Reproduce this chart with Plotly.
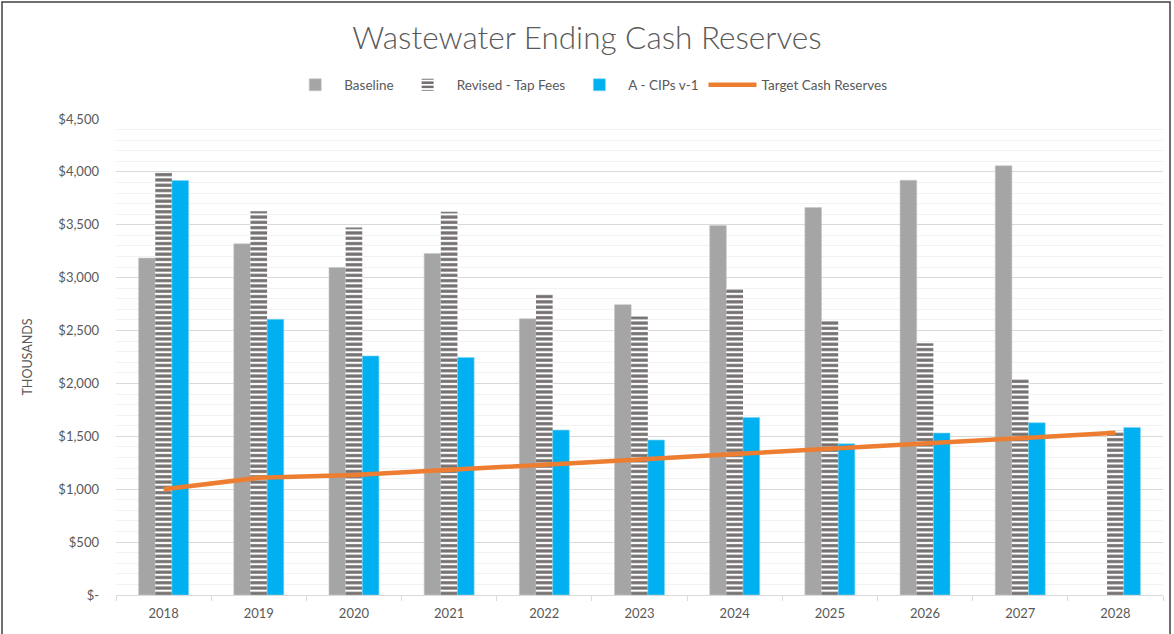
import plotly.graph_objects as go

years = ["2018", "2019", "2020", "2021", "2022", "2023", "2024", "2025", "2026", "2027", "2028"]
baseline = [3185, 3320, 3095, 3228, 2612, 2745, 3493, 3663, 3920, 4058, None]
revised_tap_fees = [4000, 3628, 3475, 3623, 2845, 2632, 2899, 2591, 2380, 2047, 1553]
a_cips_v1 = [3918, 2606, 2260, 2245, 1559, 1465, 1679, 1430, 1531, 1628, 1584]
target_cash = [1000, 1108, 1135, 1180, 1228, 1280, 1332, 1385, 1432, 1482, 1533]

y_tickvals = [0, 500, 1000, 1500, 2000, 2500, 3000, 3500, 4000, 4500]
y_ticktext = ["$-", "$500", "$1,000", "$1,500", "$2,000", "$2,500", "$3,000", "$3,500", "$4,000", "$4,500"]

FONT = "Lato, 'Open Sans', sans-serif"
TXT = "#595959"

fig = go.Figure()
fig.add_trace(go.Bar(
    x=years, y=baseline, name="Baseline",
    marker=dict(color="#A5A5A5", line=dict(width=0.6, color="#C8C8C8")),
))
fig.add_trace(go.Bar(
    x=years, y=revised_tap_fees, name="Revised - Tap Fees",
    marker=dict(color="#FFFFFF", line=dict(width=0),
                pattern=dict(shape="-", fgcolor="#767171", bgcolor="#FFFFFF",
                             size=5.3, solidity=0.6, fillmode="replace")),
))
fig.add_trace(go.Bar(
    x=years, y=a_cips_v1, name="A - CIPs v-1",
    marker=dict(color="#00B0F0", line=dict(width=0.6, color="#7FD4F5")),
))
fig.add_trace(go.Scatter(
    x=years, y=target_cash, name="Target Cash Reserves", mode="lines",
    line=dict(color="#ED7D31", width=4.5),
))

fig.update_layout(
    width=1174, height=634,
    margin=dict(l=116, r=11, t=119, b=39, autoexpand=False),
    paper_bgcolor="white", plot_bgcolor="white",
    barmode="group", bargap=0.475, bargroupgap=0,
    font=dict(family=FONT, color=TXT, size=13),
    title=dict(text="Wastewater Ending Cash Reserves", x=0.5, xanchor="center",
               y=1 - 38 / 634, yanchor="middle",
               font=dict(family=FONT, size=31.5, color=TXT, weight=300)),
    legend=dict(orientation="h", x=0.452, xanchor="center", y=1 + (119 - 85) / 476,
                yanchor="middle", font=dict(size=13.5, color=TXT),
                itemwidth=48, tracegroupgap=0, bgcolor="rgba(0,0,0,0)"),
    showlegend=True,
)
fig.update_xaxes(
    type="category", showgrid=False, showline=True, linecolor="#D9D9D9", linewidth=1,
    ticks="outside", tickson="boundaries", ticklen=5, tickcolor="#D9D9D9",
    tickfont=dict(size=13, color=TXT, family=FONT), ticklabelstandoff=6,
)
fig.update_yaxes(
    range=[0, 4500], tickvals=y_tickvals, ticktext=y_ticktext,
    showgrid=True, gridcolor="#D9D9D9", gridwidth=1,
    minor=dict(dtick=100, showgrid=True, gridcolor="#F2F2F2", gridwidth=1, tick0=0),
    zeroline=False, showline=False,
    tickfont=dict(size=13, color=TXT, family=FONT), ticklabelstandoff=16,
    title=dict(text="THOUSANDS", font=dict(size=12.5, color=TXT, family=FONT), standoff=22),
)

# outer chart border
fig.add_shape(type="rect", xref="paper", yref="paper",
              x0=(2 - 116) / 1047, x1=(1170 - 116) / 1047,
              y0=-(640 - 595) / 476, y1=1 + (119 - 2) / 476,
              line=dict(color="#404040", width=1.5), layer="above")

fig.write_html("out.html", config={"displayModeBar": False},
               post_script="document.body.style.margin='0';document.body.style.overflow='hidden';")
